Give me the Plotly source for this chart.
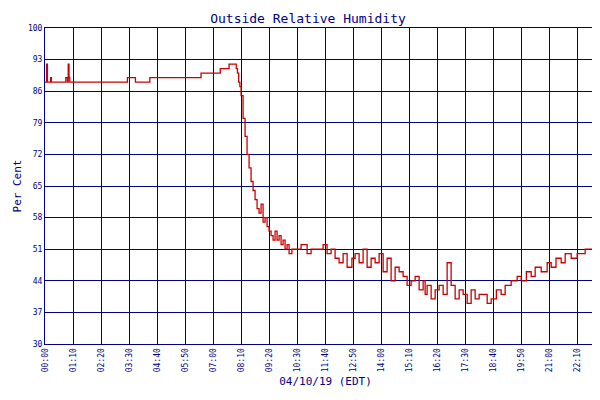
import plotly.graph_objects as go

# minutes since midnight, relative humidity %
minutes = [0, 4, 6, 14, 16, 20, 50, 52, 56, 58, 60, 62, 204, 206, 224, 226, 259, 262,
           388, 390, 436, 438, 458, 460, 475, 478, 481, 484, 487, 490,
           495, 500, 505, 510, 515, 520, 525, 530, 535, 540, 545, 550, 555, 560,
           565, 570, 575, 580, 585, 590, 595, 600, 605, 610, 617, 625, 640, 655,
           665, 680, 695, 705, 715, 725, 735, 745, 755, 767, 775, 785, 795, 805,
           815, 825, 835, 845, 855, 865, 875, 885, 895, 905, 915, 925, 935, 945,
           950, 955, 965, 975, 985, 995, 1005, 1015, 1025, 1035, 1045, 1055, 1065,
           1075, 1085, 1095, 1105, 1115, 1128, 1140, 1150, 1165, 1180, 1190, 1203,
           1215, 1225, 1240, 1255, 1265, 1277, 1290, 1300, 1315, 1330, 1340, 1350,
           1360, 1370, 1377, 1390, 1400]
humidity = [88, 92, 88, 89, 88, 88, 88, 89, 88, 92, 89, 88, 88, 89, 89, 88, 88, 89,
            89, 90, 90, 91, 91, 92, 92, 91, 90, 88, 87, 85,
            80, 76, 72, 69, 66, 64, 62, 60, 59, 61, 57, 58, 56, 55,
            54, 53, 55, 53, 54, 52, 53, 51, 52, 50, 51, 51, 52, 50,
            51, 51, 52, 50, 51, 49, 48, 50, 47, 49, 50, 48, 51, 47,
            49, 48, 50, 46, 49, 44, 47, 46, 45, 43, 44, 45, 42, 44,
            41, 43, 40, 42, 43, 41, 48, 43, 40, 42, 41, 39, 42,
            40, 41, 41, 39, 40, 42, 41, 43, 44, 45, 44, 46,
            45, 47, 46, 48, 47, 49, 48, 50, 49, 50, 50, 51, 51,
            50, 51, 52, 53, 54]

tick_vals = list(range(0, 1400, 70)) + [1400]
tick_text = ["%02d:%02d" % (m // 60, m % 60) for m in tick_vals]

navy = "#000080"
font = "DejaVu Sans Mono"

fig = go.Figure()
fig.add_trace(go.Scatter(x=minutes, y=humidity, mode="lines", line_shape="hv",
                         line=dict(color="#cc0000", width=1.3), name="Relative Humidity"))

fig.update_layout(
    width=600, height=400,
    paper_bgcolor="white", plot_bgcolor="white",
    margin=dict(l=37, r=2, t=20, b=64, autoexpand=False),
    title=dict(text="Outside Relative Humidity", x=0.5, y=0.985, xanchor="center",
               font=dict(family=font, size=13, color=navy)),
    font=dict(family=font, size=9, color=navy),
    showlegend=True,
    legend=dict(orientation="h", x=0.5, xanchor="center", y=-0.22, yanchor="top",
                font=dict(size=8, color=navy)),
)
fig.update_xaxes(range=[0, 1402], tickvals=tick_vals, ticktext=tick_text, tickangle=-90,
                 showgrid=True, gridcolor=navy, gridwidth=1, linecolor=navy, mirror=True,
                 showline=True, zeroline=False, tickfont=dict(size=8), automargin=False,
                 title=dict(text="04/10/19 (EDT)", font=dict(size=11), standoff=6))
fig.update_yaxes(range=[30, 100], tickvals=list(range(30, 101, 7)), showgrid=True,
                 gridcolor=navy, gridwidth=1, linecolor=navy, mirror=True, showline=True,
                 zeroline=False, tickfont=dict(size=8), automargin=False,
                 title=dict(text="Per Cent", font=dict(size=11), standoff=4))

fig.write_html("out.html")
